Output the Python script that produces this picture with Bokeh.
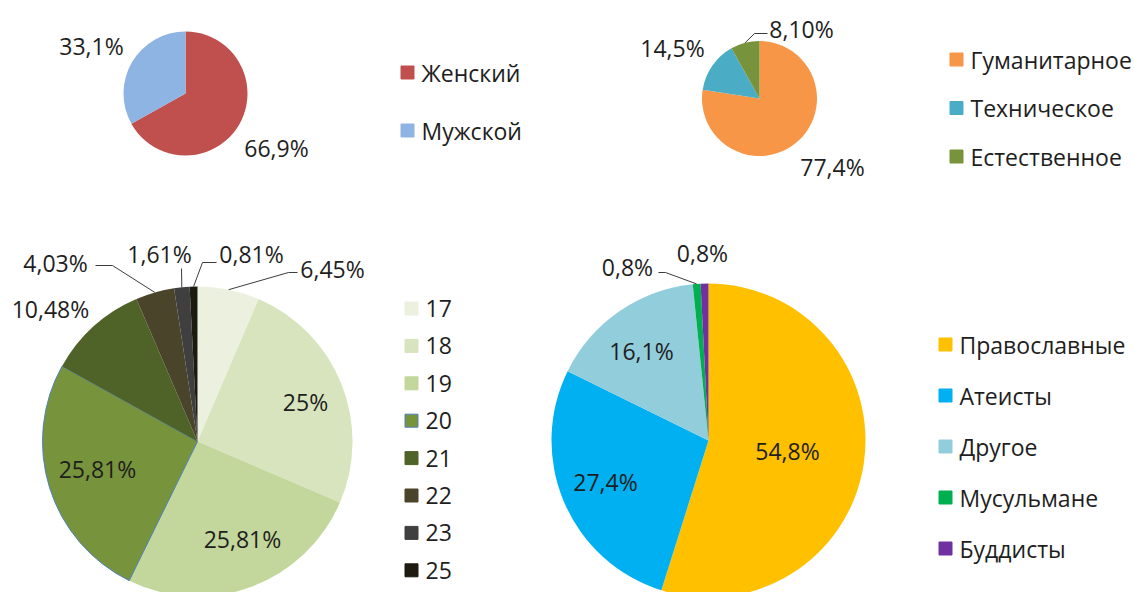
import math
from bokeh.plotting import figure
from bokeh.models import Range1d
from bokeh.core.properties import value
from bokeh.embed import file_html
from bokeh.resources import INLINE

# ---------------- data ----------------
gender_labels = ["Женский", "Мужской"]
gender_values = [66.9, 33.1]
gender_text = ["66,9%", "33,1%"]
gender_colors = ["#C0504D", "#8EB4E3"]

edu_labels = ["Гуманитарное", "Техническое", "Естественное"]
edu_values = [77.4, 14.5, 8.10]
edu_text = ["77,4%", "14,5%", "8,10%"]
edu_colors = ["#F79646", "#4BACC6", "#77933C"]

age_labels = ["17", "18", "19", "20", "21", "22", "23", "25"]
age_values = [6.45, 25, 25.81, 25.81, 10.48, 4.03, 1.61, 0.81]
age_text = ["6,45%", "25%", "25,81%", "25,81%", "10,48%", "4,03%", "1,61%", "0,81%"]
age_colors = ["#EBF1DE", "#D7E4BD", "#C3D69B", "#77933C", "#4F6228", "#4A452A", "#3F3F3F", "#1D1B10"]

rel_labels = ["Православные", "Атеисты", "Другое", "Мусульмане", "Буддисты"]
rel_values = [54.8, 27.4, 16.1, 0.8, 0.8]
rel_text = ["54,8%", "27,4%", "16,1%", "0,8%", "0,8%"]
rel_colors = ["#FFC000", "#00B0F0", "#92CDDC", "#00B050", "#7030A0"]

# ---------------- layout (page pixel positions) ----------------
W, H = 1134, 592
FONT = "Open Sans"
TXT = "#1E1E1E"
LABEL_SIZE = "23px"
LEGEND_SIZE = "23px"

def Y(py):
    return H - py

p = figure(width=W, height=H, output_backend="svg", toolbar_location=None,
           x_range=Range1d(0, W), y_range=Range1d(0, H),
           x_axis_location=None, y_axis_location=None, min_border=0)
p.grid.visible = False
p.outline_line_color = None
p.background_fill_color = "white"
p.border_fill_color = "white"


def pie(values, colors, labels, texts, cx, cy, r, label_pos, leaders, leg_x, leg_y0, leg_dy,
        outline=None):
    total = sum(values)
    cum = 0.0
    mids = []
    for i, v in enumerate(values):
        a0 = math.pi / 2 - 2 * math.pi * cum / total
        a1 = math.pi / 2 - 2 * math.pi * (cum + v) / total
        mids.append(math.pi / 2 - 2 * math.pi * (cum + v / 2) / total)
        lc = None
        if outline and i in outline:
            lc = outline[i]
        p.wedge(x=cx, y=Y(cy), radius=r, start_angle=a0, end_angle=a1, direction="clock",
                fill_color=colors[i], line_color=lc, line_width=1)
        cum += v
    # leader lines
    for i, pts in leaders.items():
        sx = cx + r * math.cos(mids[i])
        sy = Y(cy) + r * math.sin(mids[i])
        xs = [sx] + [q[0] for q in pts]
        ys = [sy] + [Y(q[1]) for q in pts]
        p.line(xs, ys, line_color="#3C3C3C", line_width=1)
    # labels
    p.text(x=[q[0] for q in label_pos], y=[Y(q[1]) for q in label_pos], text=texts,
           text_font=value(FONT), text_font_size=value(LABEL_SIZE), text_color=TXT,
           text_align="center", text_baseline="middle")
    # legend
    ly = [Y(leg_y0 + k * leg_dy) for k in range(len(labels))]
    lcs = [(outline[k] if outline and k in outline else colors[k]) for k in range(len(labels))]
    p.rect(x=[leg_x] * len(labels), y=ly, width=13, height=13, fill_color=colors,
           line_color=lcs, line_width=1)
    p.text(x=[leg_x + 14] * len(labels), y=ly, text=labels,
           text_font=value(FONT), text_font_size=value(LEGEND_SIZE), text_color=TXT,
           text_align="left", text_baseline="middle")


# gender
pie(gender_values, gender_colors, gender_labels, gender_text,
    185, 93, 62,
    [(276, 147), (91, 45)], {},
    407, 72, 58)

# education
pie(edu_values, edu_colors, edu_labels, edu_text,
    759, 98, 57.5,
    [(832, 166), (672, 47), (801, 28)],
    {2: [(754, 33), (767, 33)]},
    956, 59, 48.5)

# age
pie(age_values, age_colors, age_labels, age_text,
    197, 441, 155,
    [(332, 268), (305, 401), (242, 538), (97, 468), (50, 308), (55, 262), (159, 253), (251, 253)],
    {0: [(288, 272), (297, 272)],
     5: [(112, 265), (95, 265)],
     6: [(181, 268)],
     7: [(202, 262), (216, 262)]},
    411, 308, 37.4, outline={3: "#4F81BD"})

# religion
pie(rel_values, rel_colors, rel_labels, rel_text,
    708, 440, 157,
    [(787, 450), (605, 481), (641, 350), (627, 266), (702, 252)],
    {3: [(665, 272), (658, 272)]},
    945, 344, 51)

open("out.html", "w").write(file_html(p, INLINE))
